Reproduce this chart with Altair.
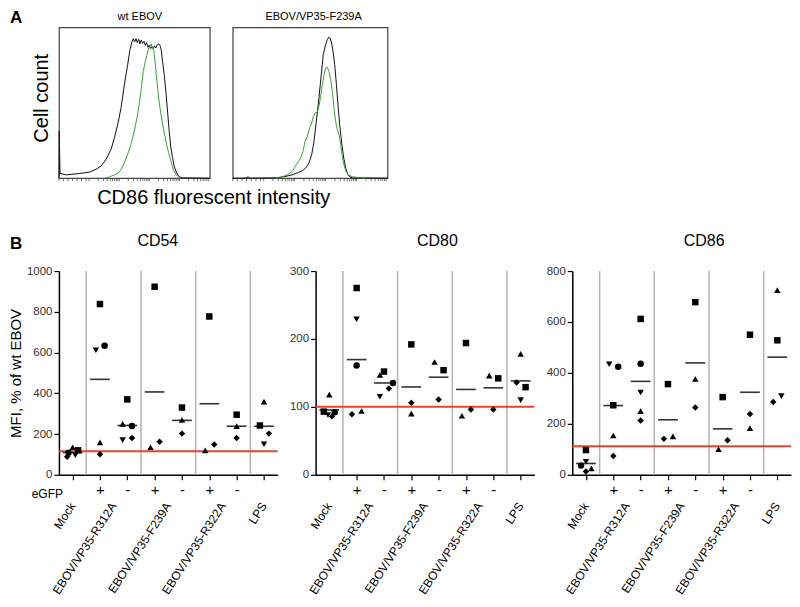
import altair as alt
import pandas as pd

FONT = "Liberation Sans"

# ---------------- Panel A: histogram traces (x: % of axis span, y: % of max count)
wt_black = [(0, 0.4), (0.2, 31.3), (0.7, 3.1), (4.8, 2.2), (13.7, 3.1), (20.3, 4.0), (24.7, 5.9),
            (28.0, 8.1), (31.3, 12.6), (34.6, 19.2), (36.8, 26.9), (39.0, 35.7), (41.2, 46.7),
            (43.4, 62.1), (45.6, 75.3), (47.1, 85.2), (48.5, 90.7), (49.3, 92.5), (50.2, 90.3),
            (51.1, 92.5), (52.0, 89.9), (52.9, 92.1), (53.7, 89.0), (54.6, 91.6), (55.5, 89.4),
            (56.4, 90.7), (57.3, 88.1), (58.1, 89.9), (59.0, 86.8), (59.9, 88.1), (60.8, 85.9),
            (61.7, 87.2), (62.6, 85.9), (63.4, 87.7), (64.3, 86.3), (65.2, 88.5), (66.1, 89.0),
            (67.0, 88.1), (67.8, 85.2), (68.7, 77.5), (69.8, 68.7), (70.9, 57.7), (72.0, 44.5),
            (73.1, 31.3), (74.2, 20.3), (75.3, 13.7), (76.4, 8.1), (77.5, 4.8), (78.6, 2.6),
            (79.7, 0.9), (81.9, 0.2), (100, 0)]
wt_green = [(30.2, 0), (33.5, 0.9), (36.8, 2.2), (39.0, 3.1), (41.2, 5.9), (43.4, 10.4),
            (45.6, 15.9), (47.8, 22.5), (50.0, 31.3), (52.2, 42.3), (54.4, 57.7), (55.9, 70.9),
            (57.3, 77.5), (58.4, 81.9), (59.5, 86.3), (60.4, 87.4), (61.2, 89.0), (62.1, 86.3),
            (63.0, 84.1), (63.9, 75.3), (65.0, 64.3), (66.1, 53.3), (67.6, 42.3), (69.2, 33.5),
            (70.9, 24.7), (72.7, 17.0), (74.2, 11.5), (75.8, 5.9), (77.5, 2.6), (79.3, 0.9),
            (80.8, 0.2)]
mut_black = [(0, 0), (8.2, 0), (9.9, 0.9), (11.4, 0), (27.6, 0.2), (33.0, 0.9), (38.4, 2.2),
             (41.7, 3.5), (44.9, 4.9), (47.1, 6.6), (49.2, 10.0), (51.0, 15.5), (52.5, 24.3),
             (54.0, 37.6), (55.7, 53.1), (57.2, 68.6), (58.5, 81.9), (60.0, 88.5), (61.1, 91.8),
             (62.0, 93.4), (62.9, 92.9), (63.9, 89.6), (64.8, 84.1), (65.9, 75.2), (67.0, 61.9),
             (68.0, 48.7), (69.1, 35.4), (70.4, 23.2), (71.7, 13.3), (73.0, 6.6), (74.3, 2.7),
             (75.6, 0.9), (77.3, 0.2), (100, 0)]
mut_green = [(27.6, 0), (32.0, 0.9), (35.2, 2.2), (38.4, 4.4), (41.0, 8.8), (43.8, 13.3),
             (45.4, 17.7), (46.7, 24.3), (48.2, 27.7), (49.7, 33.2), (51.0, 36.5), (52.1, 40.9),
             (53.1, 43.1), (54.6, 43.8), (55.7, 47.6), (56.8, 54.2), (57.9, 61.9), (59.0, 68.6),
             (60.0, 73.0), (61.1, 73.5), (62.2, 70.8), (63.3, 65.3), (64.4, 57.5), (65.4, 46.5),
             (66.5, 37.6), (67.6, 32.1), (68.7, 28.8), (69.8, 22.1), (70.8, 14.4), (71.9, 8.8),
             (73.0, 4.9), (74.7, 2.2), (77.3, 0.9), (81.6, 0.4), (86.0, 0)]
hist_titles = ["wt EBOV", "EBOV/VP35-F239A"]
hist_ticks = [0, 3, 6, 9, 12, 15, 18, 20, 26, 29.5, 32, 34, 35.6, 36.9, 38.1, 39.1, 40,
              46, 49.5, 52, 54, 55.6, 56.9, 58.1, 59.1, 60, 66, 69.5, 72, 74, 75.6, 76.9,
              78.1, 79.1, 80, 86, 89.5, 92, 94, 95.6, 96.9, 98.1, 99.1]
hist_xtitle = "CD86 fluorescent intensity"
hist_ytitle = "Cell count"

# ---------------- Panel B: MFI, % of wt EBOV
sign_labels = ["", "+", "-", "+", "-", "+", "-", ""]
group_names = ["Mock", "EBOV/VP35-R312A", "EBOV/VP35-F239A", "EBOV/VP35-R322A", "LPS"]
group_pos = [0, 1.5, 3.5, 5.5, 7]
group_bounds = [0.5, 2.5, 4.5, 6.5]
donor_ids = ["D1", "D2", "D3", "D4", "D5"]
donor_shapes = ["square", "triangle-up", "triangle-down", "circle", "diamond"]

cd54_vals = [[135, 120, 108, 96, 88], [838, 611, 633, 159, 101], [370, 250, 239, 170, 181],
             [923, 135, 162], [330, 269, 202], [777, 120, 149], [295, 239, 181],
             [359, 242, 202, 150]]
cd54_donor = [["D2", "D1", "D4", "D3", "D5"], ["D1", "D3", "D4", "D2", "D5"],
              ["D1", "D2", "D4", "D3", "D5"], ["D1", "D2", "D5"], ["D1", "D2", "D5"],
              ["D1", "D2", "D5"], ["D1", "D2", "D5"], ["D2", "D1", "D5", "D3"]]
cd54_spread = [[0, 0.2, -0.15, 0.1, -0.2], [0, -0.15, 0.17, 0, 0], [0, -0.17, 0.17, -0.17, 0.17],
               [0, -0.15, 0.18], [0, 0, 0], [0, -0.15, 0.18], [0, 0, 0], [0, -0.15, 0.18, 0]]

cd80_vals = [[118, 93, 92, 88, 86], [275, 229, 161, 89, 94], [152, 147, 135, 127, 115],
             [192, 106, 90], [166, 154, 111], [194, 87, 96], [146, 142, 96],
             [178, 136, 129, 110]]
cd80_donor = [["D2", "D1", "D4", "D3", "D5"], ["D1", "D3", "D4", "D5", "D2"],
              ["D1", "D2", "D4", "D5", "D3"], ["D1", "D5", "D2"], ["D2", "D1", "D5"],
              ["D1", "D2", "D5"], ["D2", "D1", "D5"], ["D2", "D5", "D1", "D3"]]
cd80_spread = [[0, -0.2, 0.2, -0.05, 0.1], [0, 0, 0, -0.17, 0.18], [0, -0.15, 0.33, 0.18, -0.15],
               [0, 0, 0], [-0.15, 0.18, 0], [0, -0.15, 0.18], [-0.15, 0.18, 0], [0, -0.15, 0.18, 0]]

cd86_vals = [[97, 51, 36, 25, 13], [434, 424, 273, 154, 74], [612, 436, 323, 250, 213],
             [356, 141, 151], [678, 376, 264], [305, 136, 100], [550, 239, 183],
             [725, 528, 309, 286]]
cd86_donor = [["D1", "D3", "D4", "D2", "D5"], ["D3", "D4", "D1", "D2", "D5"],
              ["D1", "D4", "D3", "D2", "D5"], ["D1", "D5", "D2"], ["D1", "D2", "D5"],
              ["D1", "D5", "D2"], ["D1", "D5", "D2"], ["D2", "D1", "D3", "D5"]]
cd86_spread = [[0, 0, -0.18, 0.2, 0], [-0.15, 0.18, 0, 0, 0], [0, 0, 0, 0, 0],
               [0, -0.15, 0.18], [0, 0, 0], [0, 0.18, -0.15], [0, 0, 0], [0, 0, 0.15, -0.15]]

panel_names = ["CD54", "CD80", "CD86"]
ref_levels = [115, 100, 112]
y_max = [1000, 300, 800]
y_tick_count = [5, 3, 4]
y_title = "MFI, % of wt EBOV"

# ---------------- layout constants (pixels)
BOX_H = 151
PW, PH = 219, 204


def txt(s, **kw):
    return alt.Chart(pd.DataFrame({"t": [s]})).mark_text(font=FONT, color="black", **kw)


def hist_panel(black, green, title, width, first):
    dfb = pd.DataFrame(black, columns=["x", "y"])
    dfg = pd.DataFrame(green, columns=["x", "y"])
    xs = alt.Scale(domain=[0, 100], nice=False, zero=False)
    xenc = alt.X("x:Q", scale=xs, axis=None)
    yenc = alt.Y("y:Q", scale=alt.Scale(domain=[0, 100], nice=False), axis=None)
    layers = [
        alt.Chart(pd.DataFrame({"t": hist_ticks})).mark_rule(
            color="#555555", strokeWidth=0.8).encode(
            x=alt.X("t:Q", scale=xs, axis=None), y=alt.value(BOX_H), y2=alt.value(BOX_H + 3)),
        alt.Chart(dfb).mark_line(color="#111111", strokeWidth=1).encode(x=xenc, y=yenc),
        alt.Chart(dfg).mark_line(color="#3a9e3a", strokeWidth=1).encode(x=xenc, y=yenc),
        txt(title, fontSize=11, align="center", baseline="alphabetic").encode(
            text="t:N", x=alt.value(81), y=alt.value(-7)),
    ]
    if first:
        layers += [
            txt("A", fontSize=17, fontWeight="bold", align="left", baseline="top").encode(
                text="t:N", x=alt.value(-49), y=alt.value(-17)),
            txt(hist_ytitle, fontSize=20, angle=270, align="center",
                baseline="alphabetic").encode(text="t:N", x=alt.value(-11), y=alt.value(71)),
            txt(hist_xtitle, fontSize=20, align="center", baseline="alphabetic").encode(
                text="t:N", x=alt.value(155), y=alt.value(177)),
        ]
    return alt.layer(*layers).properties(
        width=width, height=BOX_H,
        view=alt.ViewBackground(stroke="#444444", strokeWidth=1.2),
    )


def scatter_panel(k, vals, donors, spread, title_x, first):
    rows = []
    for g, (vs, ds, ss) in enumerate(zip(vals, donors, spread)):
        for v, d, s in zip(vs, ds, ss):
            rows.append({"group": g, "val": v, "donor": d, "spread": s})
    df = pd.DataFrame(rows)
    xs = alt.Scale(domain=[-0.5, 7.5], nice=False, zero=False)
    ys = alt.Scale(domain=[0, y_max[k]], nice=False)
    label_expr = "[" + ",".join("'%s'" % s for s in sign_labels) + "][datum.value]"
    xaxis = alt.Axis(tickCount=len(sign_labels), labelExpr=label_expr, title=None,
                     labelFont=FONT, labelFontSize=15, labelColor="black", labelAngle=0,
                     labelOverlap=False, labelFlush=False, labelPadding=3,
                     tickSize=5, tickColor="black", tickWidth=1.2,
                     domainColor="black", domainWidth=1.5, grid=False)
    yaxis = alt.Axis(tickCount=y_tick_count[k], format="d", title=y_title if first else None,
                     labelFont=FONT, labelFontSize=11.5, labelColor="#333333", labelPadding=2,
                     tickSize=5, tickColor="black", tickWidth=1.2,
                     domainColor="black", domainWidth=1.5, grid=False,
                     titleFont=FONT, titleFontSize=15, titleFontWeight="normal",
                     titleColor="black", titlePadding=3)
    seps = alt.Chart(pd.DataFrame({"b": group_bounds})).mark_rule(
        color="#b4b4b4", strokeWidth=1.5).encode(
        x=alt.X("b:Q", scale=xs, axis=xaxis), y=alt.value(0), y2=alt.value(PH))
    ref = alt.Chart(pd.DataFrame({"r": [ref_levels[k]]})).mark_rule(
        color="#e8432f", strokeWidth=2).encode(
        y=alt.Y("r:Q", scale=ys, axis=yaxis), x=alt.value(0), x2=alt.value(PW))
    means = alt.Chart(df).transform_aggregate(
        m="mean(val)", groupby=["group"]).transform_calculate(
        x1="datum.group - 0.36", x2="datum.group + 0.36").mark_rule(
        color="#333333", strokeWidth=1.6).encode(
        x=alt.X("x1:Q", scale=xs, axis=xaxis), x2="x2:Q",
        y=alt.Y("m:Q", scale=ys, axis=yaxis))
    pts = alt.Chart(df).transform_calculate(xpos="datum.group + datum.spread").mark_point(
        filled=True, color="black", opacity=1, size=42).encode(
        x=alt.X("xpos:Q", scale=xs, axis=xaxis),
        y=alt.Y("val:Q", scale=ys, axis=yaxis),
        shape=alt.Shape("donor:N", scale=alt.Scale(domain=donor_ids, range=donor_shapes),
                        legend=None))
    glabels = alt.Chart(pd.DataFrame({"label": group_names, "pos": group_pos})).mark_text(
        font=FONT, fontSize=12, angle=303, align="right", baseline="middle",
        color="black").encode(
        x=alt.X("pos:Q", scale=xs, axis=xaxis), y=alt.value(PH + 29), text="label:N")
    ttl = txt(panel_names[k], fontSize=16, align="center", baseline="alphabetic").encode(
        text="t:N", x=alt.value(title_x), y=alt.value(-25))
    layers = [seps, ref, means, pts, glabels, ttl]
    if first:
        layers += [
            txt("B", fontSize=17, fontWeight="bold", align="left", baseline="alphabetic").encode(
                text="t:N", x=alt.value(-49), y=alt.value(-22)),
            txt("eGFP", fontSize=12, align="right", baseline="alphabetic").encode(
                text="t:N", x=alt.value(4), y=alt.value(PH + 23)),
        ]
    return alt.layer(*layers).properties(width=PW, height=PH)


row1 = alt.hconcat(
    hist_panel(wt_black, wt_green, hist_titles[0], 151, True),
    hist_panel(mut_black, mut_green, hist_titles[1], 155, False),
    spacing=23, bounds="flush")

row2 = alt.hconcat(
    scatter_panel(0, cd54_vals, cd54_donor, cd54_spread, 99, True),
    scatter_panel(1, cd80_vals, cd80_donor, cd80_spread, 122, False),
    scatter_panel(2, cd86_vals, cd86_donor, cd86_spread, 132, False),
    spacing=38, bounds="flush")

chart = alt.vconcat(row1, row2, spacing=24).properties(padding=0).configure_view(
    strokeWidth=0)

chart.save("out.html", embed_options={"renderer": "svg", "actions": False})
